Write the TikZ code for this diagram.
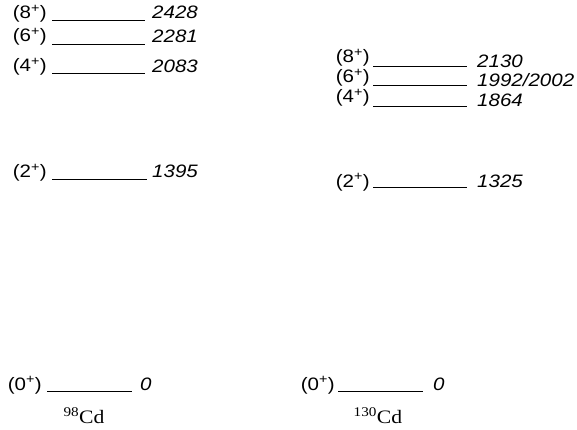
\documentclass[tikz,border=0pt]{standalone}
\usepackage{fontspec}
\newfontfamily\hv[FakeStretch=1.14]{Liberation Sans}
\newfontfamily\tms[FakeStretch=1.14]{Liberation Serif}
\begin{document}
\begin{tikzpicture}[x=1pt,y=-1pt,
  lab/.style={inner sep=0pt,anchor=base east,font=\hv\fontsize{18}{20}\selectfont},
  val/.style={inner sep=0pt,anchor=base west,font=\hv\itshape\fontsize{18}{20}\selectfont},
  nuc/.style={inner sep=0pt,anchor=base,font=\tms\fontsize{19}{20}\selectfont},
  lev/.style={line width=0.7pt}]
\useasboundingbox (0,0) rectangle (577,430);
% ---- 98Cd ----
\coordinate (a8l) at (52,20); \coordinate (a8r) at (145,20);
\coordinate (a6l) at (52,44); \coordinate (a6r) at (145,44);
\coordinate (a4l) at (52,73); \coordinate (a4r) at (145,73);
\coordinate (a2l) at (52,179); \coordinate (a2r) at (147,179);
\coordinate (a0l) at (47,391); \coordinate (a0r) at (132,391);
\draw[lev] (a8l) -- (a8r);
\draw[lev] (a6l) -- (a6r);
\draw[lev] (a4l) -- (a4r);
\draw[lev] (a2l) -- (a2r);
\draw[lev] (a0l) -- (a0r);
\node[lab] (ja8) at (47,19) {(8\textsuperscript{+})};
\node[lab] (ja6) at (47,42) {(6\textsuperscript{+})};
\node[lab] (ja4) at (47,72) {(4\textsuperscript{+})};
\node[lab] (ja2) at (47,178) {(2\textsuperscript{+})};
\node[lab] (ja0) at (42,390) {(0\textsuperscript{+})};
\node[val] (ea8) at (152,19) {2428};
\node[val] (ea6) at (152,43) {2281};
\node[val] (ea4) at (152,73) {2083};
\node[val] (ea2) at (152,178) {1395};
\node[val] (ea0) at (140,390) {0};
\node[nuc] (na) at (84,423) {\textsuperscript{98}Cd};
% ---- 130Cd ----
\coordinate (b8l) at (373,66); \coordinate (b8r) at (467,66);
\coordinate (b6l) at (373,85); \coordinate (b6r) at (467,85);
\coordinate (b4l) at (373,106); \coordinate (b4r) at (467,106);
\coordinate (b2l) at (373,187); \coordinate (b2r) at (467,187);
\coordinate (b0l) at (338,391); \coordinate (b0r) at (423,391);
\draw[lev] (b8l) -- (b8r);
\draw[lev] (b6l) -- (b6r);
\draw[lev] (b4l) -- (b4r);
\draw[lev] (b2l) -- (b2r);
\draw[lev] (b0l) -- (b0r);
\node[lab] (jb8) at (370,63) {(8\textsuperscript{+})};
\node[lab] (jb6) at (370,83) {(6\textsuperscript{+})};
\node[lab] (jb4) at (370,103) {(4\textsuperscript{+})};
\node[lab] (jb2) at (370,187) {(2\textsuperscript{+})};
\node[lab] (jb0) at (335,390) {(0\textsuperscript{+})};
\node[val] (eb8) at (477,68) {2130};
\node[val] (eb6) at (477,87) {1992/2002};
\node[val] (eb4) at (477,107) {1864};
\node[val] (eb2) at (477,187) {1325};
\node[val] (eb0) at (433,390) {0};
\node[nuc] (nb) at (378,423) {\textsuperscript{130}Cd};
\end{tikzpicture}
\end{document}
